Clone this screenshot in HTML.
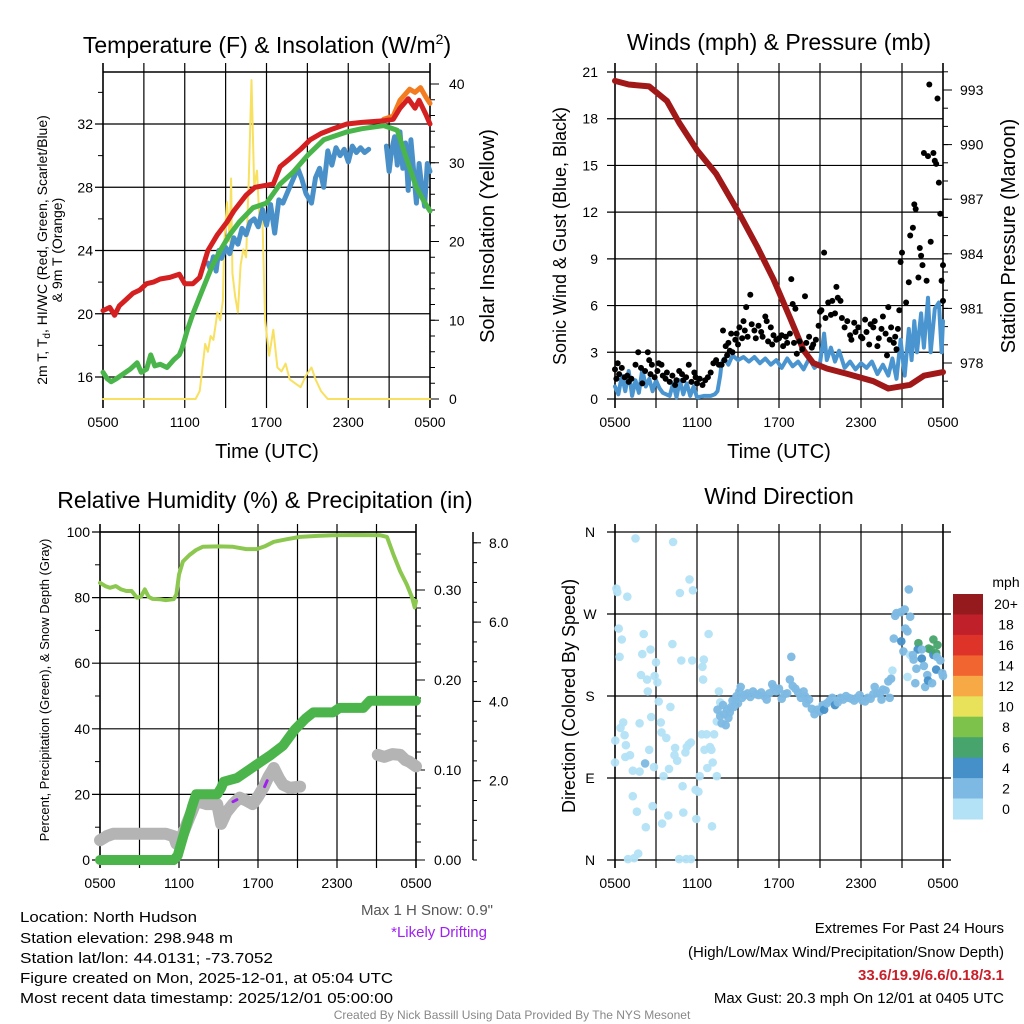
<!DOCTYPE html>
<html><head><meta charset="utf-8"><title>NYS Mesonet North Hudson</title>
<style>
html,body{margin:0;padding:0;background:#fff;}
svg{display:block;font-family:"Liberation Sans",Arial,sans-serif;}
</style></head>
<body>
<svg id="fig" width="1024" height="1024" viewBox="0 0 1024 1024" xmlns="http://www.w3.org/2000/svg">
<rect width="1024" height="1024" fill="#fff"/>
<text x="267" y="53" font-size="23" text-anchor="middle">Temperature (F) &amp; Insolation (W/m<tspan font-size="14" dy="-9">2</tspan><tspan dy="9">)</tspan></text>
<text x="779" y="50" font-size="23" text-anchor="middle">Winds (mph) &amp; Pressure (mb)</text>
<text x="265" y="508" font-size="23" text-anchor="middle">Relative Humidity (%) &amp; Precipitation (in)</text>
<text x="779" y="504" font-size="23" text-anchor="middle">Wind Direction</text>
<text transform="translate(47,250) rotate(-90)" font-size="14" text-anchor="middle">2m T, T<tspan font-size="10" dy="3">d</tspan><tspan dy="-3">, HI/WC (Red, Green, Scarlet/Blue)</tspan></text>
<text transform="translate(62,250) rotate(-90)" font-size="14" text-anchor="middle">&amp; 9m T (Orange)</text>
<text transform="translate(494,236) rotate(-90)" font-size="20" text-anchor="middle">Solar Insolation (Yellow)</text>
<text x="267" y="458" font-size="20" text-anchor="middle">Time (UTC)</text>
<text transform="translate(566,236) rotate(-90)" font-size="18" text-anchor="middle">Sonic Wind &amp; Gust (Blue, Black)</text>
<text transform="translate(1015,236) rotate(-90)" font-size="20" text-anchor="middle">Station Pressure (Maroon)</text>
<text x="779" y="458" font-size="20" text-anchor="middle">Time (UTC)</text>
<text transform="translate(49,690) rotate(-90)" font-size="13" text-anchor="middle">Percent, Precipitation (Green), &amp; Snow Depth (Gray)</text>
<text transform="translate(575,696) rotate(-90)" font-size="18" text-anchor="middle">Direction (Colored By Speed)</text>
<g font-size="15">
<text x="20" y="922" textLength="177" lengthAdjust="spacingAndGlyphs">Location: North Hudson</text>
<text x="20" y="943" textLength="213" lengthAdjust="spacingAndGlyphs">Station elevation: 298.948 m</text>
<text x="20" y="963" textLength="253" lengthAdjust="spacingAndGlyphs">Station lat/lon: 44.0131; -73.7052</text>
<text x="20" y="983" textLength="373" lengthAdjust="spacingAndGlyphs">Figure created on Mon, 2025-12-01, at 05:04 UTC</text>
<text x="20" y="1003" textLength="373" lengthAdjust="spacingAndGlyphs">Most recent data timestamp: 2025/12/01 05:00:00</text>
</g>
<text x="493" y="915" font-size="15" fill="#555" text-anchor="end">Max 1 H Snow: 0.9"</text>
<text x="487" y="937" font-size="15" fill="#a020f0" text-anchor="end">*Likely Drifting</text>
<text x="1004" y="933" font-size="15" text-anchor="end">Extremes For Past 24 Hours</text>
<text x="1004" y="957" font-size="15" text-anchor="end">(High/Low/Max Wind/Precipitation/Snow Depth)</text>
<text x="1004" y="980" font-size="15" font-weight="bold" fill="#c8202a" text-anchor="end">33.6/19.9/6.6/0.18/3.1</text>
<text x="1004" y="1003" font-size="15" text-anchor="end">Max Gust: 20.3 mph On 12/01 at 0405 UTC</text>
<text x="512" y="1019" font-size="12" fill="#888" text-anchor="middle">Created By Nick Bassill Using Data Provided By The NYS Mesonet</text>
</svg>
<script>
// ---------- DATA (hours after 0500 UTC) ----------
const xTickLabels = ["0500","1100","1700","2300","0500"];
const tempTickLabels = ["16","20","24","28","32"];
const solarTickLabels = ["0","10","20","30","40"];
const windTickLabels = ["0","3","6","9","12","15","18","21"];
const presTickLabels = ["978","981","984","987","990","993"];
const rhTickLabels = ["0","20","40","60","80","100"];
const precipTickLabels = ["0.00","0.10","0.20","0.30"];
const snowTickLabels = ["2.0","4.0","6.0","8.0"];
const dirTickLabels = ["N","E","S","W","N"];
const speedBinLabels = ["0","2","4","6","8","10","12","14","16","18","20+"];
const speedBinColors = ["#b3e2f7","#7db9e3","#4590c8","#47a46c","#7dc24a","#e8e25a","#f6a945","#f06530","#de3328","#c0202a","#951a1d"];

const t2mT = [0,0.5,0.85,1.2,1.7,2.2,2.7,3.2,3.7,4.2,4.9,5.6,6.0,6.6,7.1,7.7,8.4,9.1,9.6,10.5,11.15,11.8,12.5,13.0,13.7,14.5,15.2,16.0,16.9,17.9,19.0,20.6,21.3,21.8,22.4,22.9,23.2,23.7,24];
const t2mV = [20.2,20.4,19.9,20.5,20.9,21.3,21.5,21.9,22.0,22.2,22.3,22.5,21.9,21.9,22.3,24,25.0,25.8,26.5,27.5,28,28.1,28.2,29.3,29.8,30.4,31.0,31.4,31.7,32,32.1,32.2,32.3,33,33.6,33.0,33.5,32.6,32.0];
const t9mT = [20.6,21.3,21.8,22.5,22.9,23.3,23.7,24];
const t9mV = [32.3,32.5,33.5,34.2,34.0,34.3,33.7,33.3];
const tdT = [0,0.3,0.6,1,1.5,2,2.5,2.8,3.2,3.5,3.8,4.2,4.7,5.2,5.6,5.8,6.2,6.6,7.2,8.0,8.6,9.3,10.0,11.0,12.0,13.0,14.0,15.0,16.2,17.9,19.0,20.6,21.6,22.2,23.0,23.5,24];
const tdV = [16.3,15.9,15.7,15.9,16.2,16.5,16.9,16.3,16.5,17.4,16.7,16.8,16.6,17.1,17.4,17.8,19.0,20.0,21.3,23.0,24.0,25.0,25.8,26.7,27.0,28.2,29.0,30.0,31.0,31.5,31.7,31.9,31.6,30.0,28.0,27.2,26.5];
const wcT = [7.7,7.9,8.1,8.3,8.5,8.7,9.0,9.3,9.6,9.9,10.2,10.5,10.8,11.1,11.4,11.7,12.0,12.3,12.6,12.9,13.2,13.6,14.0,14.3,14.6,14.9,15.3,15.6,15.9,16.2,16.5,16.8,17.1,17.4,17.7,18.0,18.3,18.6,18.9,19.2,19.5];
const wcV = [23.2,22.8,23.6,22.7,24.0,23.5,24.2,23.8,24.8,24.4,25.4,25.0,25.8,26.0,25.5,26.6,25.6,26.9,25.1,27.2,27.0,27.8,28.6,29.2,28.5,27.6,27.0,28.6,29.2,28.0,30.3,29.4,30.5,30.0,30.4,29.6,30.6,30.2,30.5,30.2,30.4];
const wcT2 = [20.8,21.0,21.2,21.4,21.6,21.8,22.0,22.2,22.4,22.6,22.8,23.0,23.2,23.4,23.6,23.8,24];
const wcV2 = [30.6,29.0,30.4,31.2,29.4,31.5,29.2,30.8,27.8,31.0,29.0,27.0,29.5,28.0,26.8,29.5,29.0];
const solarT = [0,6.8,7.1,7.3,7.5,7.7,7.9,8.1,8.4,8.6,8.8,8.9,9.1,9.3,9.4,9.5,9.7,9.9,10.1,10.3,10.5,10.7,10.9,11.1,11.3,11.5,11.7,11.9,12.2,12.5,12.8,13.1,13.4,13.7,14.1,14.5,14.9,15.3,15.6,16.0,16.5,24];
const solarV = [0,0,1,4,7,6,8,7.5,11,10,12.5,20,25,20,28,16,13,11,17,19,18,28,40.5,27,29,22,23,10,5.5,8.8,4,3.5,4.5,2.5,2.0,1.5,3,4,2.5,1,0,0];

const presT = [0,1,2.5,3.8,4.7,6,7.4,9.1,10.4,11.6,12.8,13.8,14.5,15.5,17,18.9,20,21.6,22.6,24];
const presV = [993.5,993.3,993.2,992.4,991.2,989.7,988.4,986.2,984.4,982.6,980.5,978.7,978.0,977.7,977.4,977.0,976.6,976.8,977.3,977.5];
const windT = [0,0.25,0.5,0.75,1,1.25,1.5,1.75,2,2.25,2.5,2.75,3,3.25,3.5,4,4.25,4.5,4.75,5,5.25,5.5,5.75,6,6.5,7,7.3,7.5,7.7,7.8,8.0,8.3,8.6,9,9.4,9.8,10.2,10.6,11,11.4,11.8,12.2,12.6,13,13.4,13.8,14.2,14.6,15.0,15.3,15.5,15.8,16.1,16.4,16.8,17.2,17.6,18.0,18.4,18.8,19.2,19.6,20.0,20.3,20.6,20.9,21.2,21.5,21.7,21.9,22.1,22.4,22.6,22.9,23.1,23.4,23.7,23.9,24];
const windV = [0.8,0.3,1.5,0.5,1.8,0.2,1.2,0.4,1.9,0.8,1.3,0.5,1.2,0.7,0.4,0.2,1.0,0.1,1.2,0.3,1.0,0.2,0.8,0.1,0.2,0.2,0.3,0.5,1.5,2.3,2.6,2.2,2.8,2.5,2.7,2.4,2.7,2.3,2.6,2.2,2.5,2.0,2.6,2.1,2.4,1.9,2.6,2.0,2.3,4.2,2.5,3.3,2.4,3.1,2.0,2.4,1.9,2.3,2.0,2.4,1.6,2.2,1.5,2.6,1.3,3.8,1.5,4.5,2.5,5.0,3.0,5.5,3.3,6.5,3.0,5.8,6.2,3.0,5.0];
const gustT = [0,0.1,0.2,0.3,0.5,0.7,0.9,1.0,1.2,1.5,1.7,1.9,2.0,2.2,2.4,2.5,2.6,2.7,2.9,3.1,3.2,3.4,3.5,3.7,3.8,4.0,4.2,4.4,4.5,4.7,4.9,5.0,5.2,5.4,5.6,5.8,5.9,6.0,6.2,6.4,6.6,6.8,7.0,7.2,7.4,7.6,7.8,7.9,8.0,8.1,8.2,8.3,8.4,8.5,8.6,8.8,8.9,9.0,9.1,9.3,9.4,9.5,9.6,9.7,9.9,10.0,10.2,10.3,10.5,10.7,10.8,11.0,11.1,11.2,11.4,11.5,11.6,11.8,12.0,12.2,12.3,12.5,12.6,12.8,12.9,13.0,13.1,13.2,13.3,13.5,13.7,13.9,14.0,14.2,14.4,14.5,14.7,14.9,15.0,15.1,15.3,15.4,15.6,15.8,15.9,16.1,16.2,16.3,16.5,16.6,16.8,17.0,17.2,17.3,17.5,17.6,17.8,18.0,18.1,18.3,18.4,18.6,18.7,18.9,19.0,19.2,19.3,19.5,19.6,19.8,19.9,20.0,20.1,20.2,20.4,20.5,20.6,20.7,20.8,20.9,21.0,21.3,21.5,21.6,21.8,21.9,22.0,22.2,22.3,22.4,22.5,22.6,22.8,22.9,23.0,23.1,23.3,23.4,23.5,23.6,23.7,23.8,23.9,24.0,24.0];
const gustV = [1.9,1.3,2.3,1.6,2.0,1.4,1.5,1.1,1.3,2.2,3.0,2.0,1.0,1.8,3.0,2.5,1.6,2.2,1.4,1.8,2.3,2.2,1.5,1.3,1.7,1.1,1.5,0.9,1.2,1.8,1.6,1.2,1.4,2.2,1.1,1.7,1.4,1.0,1.3,0.9,1.2,1.4,1.7,2.3,2.5,2.2,2.2,4.4,2.5,3.4,2.8,3.6,3.1,4.2,3.0,3.8,4.2,3.5,4.6,3.9,5.0,4.4,5.9,4.0,6.7,4.8,4.4,3.9,4.7,4.3,4.0,5.3,5.0,3.7,4.6,3.5,4.1,3.8,3.9,4.1,3.4,4.0,3.6,4.2,7.7,6.1,3.6,5.8,2.9,3.7,3.2,6.6,3.6,4.0,3.3,3.5,3.8,4.7,5.6,5.7,9.4,5.2,6.2,5.4,6.3,5.5,7.2,6.5,6.3,5.2,4.6,5.0,4.1,3.8,4.9,4.3,4.6,4.0,3.9,5.1,4.3,3.5,4.8,4.6,5.0,3.4,3.9,4.5,5.3,4.2,2.8,5.9,3.8,4.6,3.6,4.0,3.2,4.5,5.7,8.8,9.4,6.2,7.5,10.5,11.0,12.5,12.2,7.8,9.7,9.2,8.6,15.8,7.6,15.6,20.2,10.1,15.8,15.3,15.1,19.3,13.9,11.9,7.6,8.6,6.3];

const rhT = [0,0.4,0.75,1.2,1.6,2.0,2.4,2.8,3.1,3.4,3.7,4.0,4.5,5.0,5.6,5.8,6.0,6.3,6.8,7.3,7.8,9.0,10.1,11.1,11.9,12.5,13.2,14.2,15.2,16.5,17.7,19.5,21.3,21.8,22.3,22.8,23.3,23.7,23.9,24];
const rhV = [84.5,83.5,83,83.5,82.5,82,82,80,80.2,82.5,80.2,79.6,79.5,79.2,79.5,81,87,91,93,94.5,95.5,95.6,95.5,94.8,94.8,95.6,97,97.8,98.5,98.8,99,99.1,99,98.5,93,88,84,80,77,79];
const precipT = [0,5.6,5.9,6.3,6.7,7.0,7.3,8.0,8.9,9.2,9.4,10.4,11.3,12.2,13.0,13.9,14.8,15.6,16.2,17.7,18.2,20.0,20.5,24];
const precipV = [0,0,0.005,0.025,0.045,0.06,0.073,0.073,0.073,0.08,0.087,0.091,0.1,0.109,0.117,0.127,0.145,0.157,0.164,0.164,0.169,0.169,0.177,0.177];
const snowT = [0,0.5,1,2,3,4,5,5.6,5.8,6.3,6.7,7.0,7.3,8.1,8.9,9.2,9.6,10.1,10.6,11.1,11.6,12.0,12.4,12.8,13.2,13.6,13.9,14.4,15.2];
const snowV = [0.5,0.6,0.66,0.66,0.66,0.66,0.66,0.6,0.41,0.66,1.0,1.24,1.49,1.41,1.41,0.91,1.2,1.41,1.57,1.5,1.41,1.6,1.82,2.1,2.32,2.05,1.9,1.82,1.85];
const snowT2 = [21.1,21.6,22.2,22.8,23.2,23.5,24];
const snowV2 = [2.65,2.6,2.67,2.65,2.52,2.48,2.36];
const driftT = [[10.1,10.4],[12.5,12.7]];
const driftV = [[1.47,1.52],[1.85,2.0]];

const dirT = [0.1,0.17,0.9,0.27,0.5,0.34,0.02,0,0.6,0.4,0.7,0.8,0.75,1.1,1.3,1.8,1.3,1.6,2.25,1.5,2.1,2.0,1.9,2.35,2.4,2.6,2.5,2.2,1.8,2.65,2.75,2.85,2.9,3.1,3.0,3.2,3.4,3.75,3.35,3.55,3.45,3.9,3.95,4.05,4.2,4.25,4.4,4.35,4.55,4.75,4.85,4.95,5.0,5.15,5.25,5.4,5.55,5.45,5.7,5.65,6.4,6.45,6.5,6.85,6.2,5.9,6.1,5.95,6.35,6.7,7.25,6.55,6.95,7.05,6.75,7.15,7.45,7.1,0.95,1.4,1.7,4.7,5.2,5.55,7.6,7.45,7.7,
7.5,7.7,7.8,7.9,8.0,8.1,8.2,8.3,8.4,8.5,8.6,8.7,8.8,8.9,9.0,9.1,9.2,9.3,9.5,9.7,9.9,10.1,10.3,10.5,10.7,10.9,11.1,11.3,11.5,11.6,11.8,12.0,12.2,12.4,12.6,12.8,12.9,13.0,13.2,13.4,13.6,13.8,13.9,14.0,14.2,14.4,14.6,14.8,15.0,15.2,15.3,15.5,15.7,15.9,16.1,16.3,16.5,16.7,16.9,17.1,17.3,17.5,17.7,17.9,18.1,18.3,18.5,18.7,18.9,19.0,19.2,19.4,19.5,19.6,19.8,20.0,20.1,20.2,
20.3,20.4,20.5,20.6,20.9,21.2,21.5,21.6,21.25,21.4,20.95,21.1,21.4,21.6,21.85,21.97,22.05,22.2,22.15,22.45,22.6,22.85,22.7,22.9,22.95,23.1,23.2,23.3,23.3,23.5,23.5,23.6,23.8,23.95,24,23.55,22.45,21.8];
const dirV = [298,294,289,254,242,223,131,107,151,145,137,126,113,115,98,97,70,53,36,353,248,226,203,198,185,231,121,106,150,157,59,102,202,195,217,174,140,134,151,92,40,49,100,168,237,349,123,115,109,293,219,81,52,118,124,127,129,308,296,219,212,198,220,248,92,77,75,45,138,138,138,121,124,121,101,107,92,37,1,2,7,1,1,1,185,152,173,
165,158,150,170,160,148,165,156,162,168,175,168,176,180,172,185,190,178,181,183,179,185,182,181,184,180,176,183,193,190,185,188,177,182,183,198,223,191,188,184,178,185,180,172,176,166,160,165,163,170,165,172,175,178,170,173,178,176,180,178,177,175,178,181,175,174,178,177,182,190,183,183,176,187,186,196,178,199,
208,243,268,271,272,275,297,267,254,251,240,229,201,225,220,194,210,238,231,221,213,203,190,197,232,231,194,242,225,209,227,236,219,205,202,223,231,225];
const dirS = [1,1,1,1,1,1,1,1,1,1,1,1,1,1,1,1,1,1,1,1,1,1,1,1,1,1,1,2.5,1,1,1,1,1,1,1,1,1,1,1,1,1,1,1,1,1,1,1,1,1,1,1,1,1,1,1,1,1,1,1,1,1,1,1,1,1,1,1,1,1,1,1,1,1,1,1,1,1,1,1,1,1,1,1,1,1,1,1,
2.5,2.5,2.5,2.5,2.5,2.5,2.5,2.5,2.5,2.5,2.5,2.5,2.5,2.5,2.5,2.5,2.5,2.5,2.5,2.5,2.5,2.5,2.5,2.5,2.5,2.5,2.5,2.5,2.5,2.5,2.5,2.5,2.5,2.5,2.5,2.5,3,2.5,2.5,2.5,2.5,2.5,2.5,2.5,2.5,2.5,2.5,2.5,2.5,2.5,4,2.5,2.5,2.5,4,2.5,2.5,2.5,2.5,2.5,2.5,2.5,2.5,2.5,2.5,2.5,2.5,2.5,2.5,2.5,2.5,2.5,2.5,2.5,2.5,2.5,2.5,2.5,
1,2.5,2.5,2.5,3,3,3,3,3,3,4,3,1,1,3,3,3,6,4,4,3,3,3,4,6,6,3,6,4,4,6,6,3,3,3,3,3,3];

// ---------- DRAWING ----------
const NS = "http://www.w3.org/2000/svg";
const svg = document.getElementById("fig");
function mk(tag, attrs, parent) {
  const e = document.createElementNS(NS, tag);
  for (const k in attrs) e.setAttribute(k, attrs[k]);
  (parent || svg).appendChild(e);
  return e;
}
function grp(name) {
  const g = mk("g", {});
  
  
  return g;
}
function ln(g, x1, y1, x2, y2, c, w) { return mk("line", {x1:x1, y1:y1, x2:x2, y2:y2, stroke:c||"#000", "stroke-width":w||1}, g); }
function tx(g, x, y, s, size, anchor, fill) {
  const t = mk("text", {x:x, y:y, "font-size":size||14, "text-anchor":anchor||"middle", fill:fill||"#000"}, g);
  t.textContent = s; return t;
}
function series(g, name, T, V, fx, fy, color, width) {
  let d = "";
  for (let i = 0; i < T.length; i++) d += (i ? "L" : "M") + fx(T[i]).toFixed(1) + "," + fy(V[i]).toFixed(1);
  const p = mk("path", {d:d, fill:"none", stroke:color, "stroke-width":width, "stroke-linejoin":"round", "stroke-linecap":"round"}, g);
  
  
  return p;
}
function timeGrid(g, fx, top, bot, ext) {
  for (let h = 0; h <= 24; h += 3) ln(g, fx(h), top - ext, fx(h), bot + ext, "#000", 1.2);
  for (let i = 0; i < xTickLabels.length; i++) tx(g, fx(i * 6), bot + 28, xTickLabels[i], 14);
}

// Chart 1: temperature
(function(){
  const L = 103, R = 430, T = 72, B = 399;
  const fx = h => L + h * (R - L) / 24;
  const fy = v => 377 - (v - 16) * 63.25 / 4;
  const fs = v => 399 - v * 7.875;
  const ax = grp("temperature-axes");
  timeGrid(ax, fx, T, B, 9);
  ln(ax, L, T, R, T, "#000", 1.5);
  ln(ax, L, T - 9, L, B + 9, "#000", 1.5);
  ln(ax, R, T - 9, R, B + 9, "#000", 1.5);
  for (let i = 0; i < tempTickLabels.length; i++) {
    const v = +tempTickLabels[i];
    ln(ax, L - 8, fy(v), R, fy(v), "#000", 1.2);
    tx(ax, 93, fy(v) + 5, tempTickLabels[i], 14, "end");
  }
  for (let v = 18; v <= 34; v += 4) ln(ax, L - 5, fy(v), L, fy(v));
  for (let i = 0; i < solarTickLabels.length; i++) {
    const v = +solarTickLabels[i];
    ln(ax, R, fs(v), R + 9, fs(v));
    tx(ax, 449, fs(v) + 5, solarTickLabels[i], 14, "start");
  }
  for (let v = 2; v <= 40; v += 2) ln(ax, R, fs(v), R + 5, fs(v));
  const g = grp("temperature-series");
  series(g, "solar-insolation-line", solarT, solarV, fx, fs, "#f8e060", 2);
  series(g, "wind-chill-line", wcT, wcV, fx, fy, "#4a90c8", 5);
  series(g, "wind-chill-line-late", wcT2, wcV2, fx, fy, "#4a90c8", 5);
  series(g, "dewpoint-line", tdT, tdV, fx, fy, "#4ab54a", 5);
  series(g, "temp-9m-line", t9mT, t9mV, fx, fy, "#f47c20", 5);
  series(g, "temp-2m-line", t2mT, t2mV, fx, fy, "#d42020", 5);
})();

// Chart 2: winds & pressure
(function(){
  const L = 615, R = 943, T = 72, B = 399;
  const fx = h => L + h * (R - L) / 24;
  const fy = v => 399 - v * 327 / 21;
  const fp = p => 363 - (p - 978) * 18.2;
  const ax = grp("wind-axes");
  timeGrid(ax, fx, T, B, 9);
  ln(ax, L, T - 9, L, B + 9, "#000", 1.5);
  ln(ax, R, T - 9, R, B + 9, "#000", 1.5);
  for (let i = 0; i < windTickLabels.length; i++) {
    const v = +windTickLabels[i];
    ln(ax, L - 8, fy(v), R, fy(v), "#000", 1.2);
    tx(ax, 598, fy(v) + 5, windTickLabels[i], 14, "end");
  }
  for (let i = 0; i < presTickLabels.length; i++) {
    const v = +presTickLabels[i];
    ln(ax, R, fp(v), R + 9, fp(v));
    tx(ax, 960, fp(v) + 5, presTickLabels[i], 14, "start");
  }
  for (let v = 977; v <= 994; v++) ln(ax, R, fp(v), R + 5, fp(v));
  const g = grp("wind-series");
  series(g, "wind-speed-line", windT, windV, fx, fy, "#4a95d0", 4);
  series(g, "pressure-line", presT, presV, fx, fp, "#a01818", 6);
  const gg = grp("gust-points");
  for (let i = 0; i < gustT.length; i++) {
    const c = mk("circle", {cx:fx(gustT[i]).toFixed(1), cy:fy(gustV[i]).toFixed(1), r:3, fill:"#000"}, gg);
    
    
  }
})();

// Chart 3: RH & precip
(function(){
  const L = 100, R = 416, T = 532, B = 860;
  const fx = h => L + h * (R - L) / 24;
  const fr = v => 860 - v * 3.28;
  const fpp = v => 860 - v * 900;
  const fsn = v => 860 - v * 39.65;
  const ax = grp("humidity-axes");
  timeGrid(ax, fx, T, B, 8);
  ln(ax, L, T, R, T, "#000", 1.5);
  ln(ax, L, T - 8, L, B + 8, "#000", 1.5);
  ln(ax, R, T - 8, R, B + 8, "#000", 1.5);
  for (let i = 0; i < rhTickLabels.length; i++) {
    const v = +rhTickLabels[i];
    ln(ax, L - 8, fr(v), R, fr(v), "#000", 1.2);
    tx(ax, 90, fr(v) + 5, rhTickLabels[i], 14, "end");
  }
  for (let v = 10; v <= 90; v += 20) ln(ax, L - 5, fr(v), L, fr(v));
  for (let i = 0; i < precipTickLabels.length; i++) {
    const v = +precipTickLabels[i];
    ln(ax, R, fpp(v), R + 9, fpp(v));
    tx(ax, 434, fpp(v) + 5, precipTickLabels[i], 14, "start");
  }
  for (let v = 0.02; v < 0.36; v += 0.02) ln(ax, R, fpp(v), R + 5, fpp(v));
  ln(ax, 473, 532, 473, 860, "#000", 1.5);
  for (let i = 0; i < snowTickLabels.length; i++) {
    const v = +snowTickLabels[i];
    ln(ax, 473, fsn(v), 481, fsn(v));
    tx(ax, 489, fsn(v) + 5, snowTickLabels[i], 14, "start");
  }
  for (let v = 0; v <= 8.2; v += 0.5) ln(ax, 473, fsn(v), 477, fsn(v));
  const g = grp("humidity-series");
  series(g, "snow-depth-line", snowT, snowV, fx, fsn, "#b4b4b4", 12);
  series(g, "snow-depth-line-late", snowT2, snowV2, fx, fsn, "#b4b4b4", 12);
  for (let i = 0; i < driftT.length; i++) series(g, "drifting-mark", driftT[i], driftV[i], fx, fsn, "#a020f0", 3);
  series(g, "precipitation-line", precipT, precipV, fx, fpp, "#4bb54b", 10);
  series(g, "relative-humidity-line", rhT, rhV, fx, fr, "#8cc850", 4);
})();

// Chart 4: wind direction
(function(){
  const L = 615, R = 943, T = 532, B = 860;
  const fx = h => L + h * (R - L) / 24;
  const fd = d => 860 - d * (B - T) / 360;
  const ax = grp("direction-axes");
  timeGrid(ax, fx, T, B, 8);
  ln(ax, L, T - 8, L, B + 8, "#000", 1.5);
  ln(ax, R, T - 8, R, B + 8, "#000", 1.5);
  for (let i = 0; i < dirTickLabels.length; i++) {
    const y = fd(i * 90);
    ln(ax, L - 8, y, R + 8, y, "#000", 1.2);
    tx(ax, 590, y + 5, dirTickLabels[i], 14, "middle");
  }
  const g = grp("direction-points");
  for (let i = 0; i < dirT.length; i++) {
    const bin = Math.max(0, Math.min(10, Math.floor(dirS[i] / 2)));
    const c = mk("circle", {cx:fx(dirT[i]).toFixed(1), cy:fd(dirV[i]).toFixed(1), r:4.3, fill:speedBinColors[bin], "fill-opacity":0.95}, g);
    
    
  }
  const cb = grp("speed-colorbar");
  tx(cb, 1006, 587, "mph", 14, "middle");
  const n = speedBinLabels.length, top = 594, h = 225 / n;
  for (let i = 0; i < n; i++) {
    const k = n - 1 - i;
    const r = mk("rect", {x:953, y:(top + i * h).toFixed(1), width:30, height:(h + 0.5).toFixed(1), fill:speedBinColors[k]}, cb);
    
    
    tx(cb, 1006, top + i * h + h / 2 + 5, speedBinLabels[k], 14, "middle");
  }
})();
</script>
</body></html>
